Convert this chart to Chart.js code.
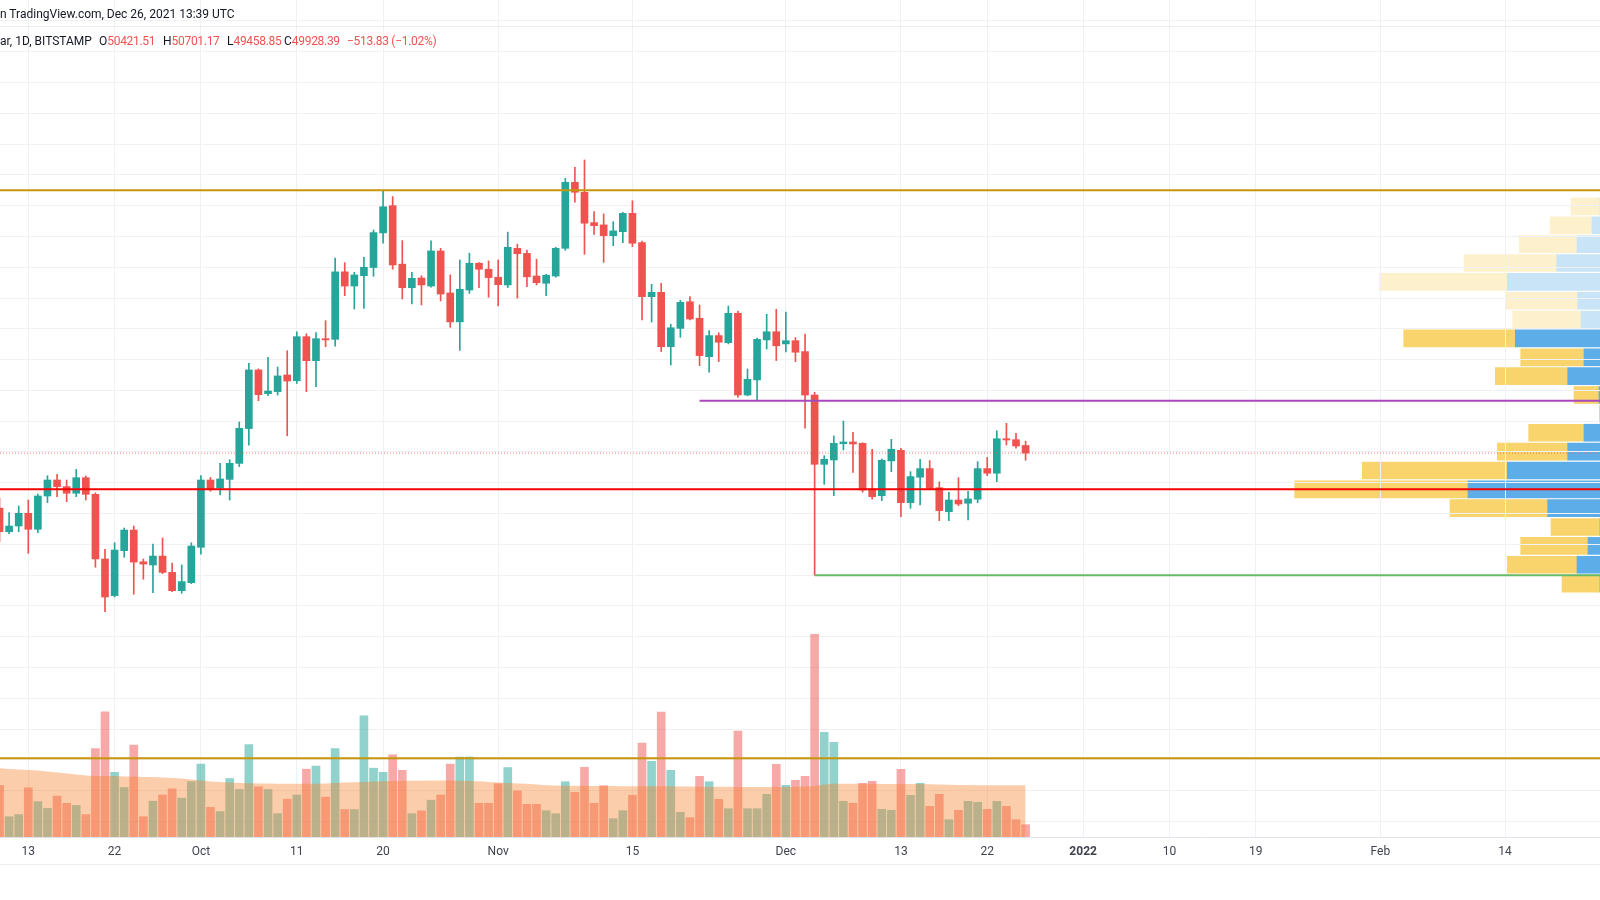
<!DOCTYPE html>
<html>
<head>
<meta charset="utf-8">
<script src="https://cdn.jsdelivr.net/npm/chart.js@4.4.0/dist/chart.umd.min.js"></script>
<style>
body { margin: 0; background: #fff; width: 1600px; height: 900px; overflow: hidden; position: relative; font-family: Roboto, sans-serif; }
canvas { position: absolute; left: 0; top: 0; }
#profile { z-index: 0; }
#main { z-index: 1; }
.txt { position: absolute; z-index: 2; font-size: 12px; line-height: 16px; color: #131722; white-space: nowrap; }
.red { color: #ef5350; letter-spacing: -0.3px; }
.sep { position: absolute; left: 0; width: 1600px; height: 1px; background: #eceef2; z-index: 2; }
</style>
</head>
<body>
<canvas id="profile" width="1600" height="900"></canvas>
<canvas id="main" width="1600" height="900"></canvas>

<div class="txt" style="left:0; top:6px;">n TradingView.com, Dec 26, 2021 13:39 UTC</div>
<div class="sep" style="top:26px;"></div>
<div class="txt" style="left:0; top:33px;">ar, 1D, BITSTAMP</div>
<div class="txt" style="left:99px; top:33px;">O<span class="red">50421.51</span></div>
<div class="txt" style="left:163px; top:33px;">H<span class="red">50701.17</span></div>
<div class="txt" style="left:227px; top:33px;">L<span class="red">49458.85</span></div>
<div class="txt" style="left:284px; top:33px;">C<span class="red">49928.39</span></div>
<div class="txt red" style="left:347px; top:33px;">−513.83 (−1.02%)</div>
<div class="sep" style="top:864px;"></div>

<script>
// daily candles, 2021-09-10 .. 2021-12-26 (x = days since Sep 10)
const open = [
    46350, 44820, 45190, 46020, 44980, 47140, 48180, 47750, 47320, 48330, 47250, 43050, 40670, 43590, 44930, 42870, 42660, 43240, 42180, 40990, 41510,
    43810, 48180, 47660, 48220, 49260, 51520, 55330, 53790, 53920, 55000, 54630, 57490, 55930, 57360, 57320, 61700, 60780, 61450, 61980, 64230,
    66000, 62200, 60670, 61300, 60780, 63060, 60330, 58450, 60520, 62260, 61870,
    61350, 60850, 63230, 62900, 61430, 60960, 61430, 63230, 67520, 66870, 64900, 64750, 64050, 64310, 65500, 63600, 60090, 60370, 56840, 58030,
    59760, 58690, 56190, 57560, 57100, 59010, 53700, 54680, 57280, 57810,
    57020, 57230, 56520, 53700, 49200, 49480, 50540, 50650, 50560, 47600, 47160, 49420, 50110, 46710, 48360, 48920, 47680, 46120, 46880, 46670,
    46930, 48920, 48620, 50860, 50800, 50421.51
]
const high = [
    47000, 46060, 46490, 46880, 47270, 48460, 48550, 48180, 48870, 48440, 47350, 43680, 44110, 45060, 45190, 43050, 44020, 44410, 42790, 42660, 44100,
    48460, 48350, 49260, 49500, 51950, 55760, 55400, 56150, 55520, 56580, 57810, 57680, 57750, 58530, 62600, 62300, 61670, 62650, 64420, 67000,
    66590, 63730, 61670, 61450, 63710, 63230, 61500, 62470, 62910, 62300, 62410,
    62470, 64280, 63500, 63120, 62520, 61540, 63300, 67780, 68490, 68970, 65610, 65460, 64960, 65560, 66320, 63700, 60890, 60960, 58300, 59850,
    60090, 59550, 57880, 57750, 59480, 59160, 55390, 57400, 58950, 59270,
    59080, 57430, 57660, 53880, 49760, 51040, 52010, 51280, 50600, 50180, 49550, 50820, 50240, 48720, 49530, 49440, 48060, 47380, 48330, 47450,
    49370, 49650, 51380, 51860, 51210, 50701.17
]
const low = [
    44170, 44700, 44820, 43420, 44760, 46710, 47100, 46770, 47100, 46880, 42510, 39630, 40580, 43160, 40760, 41730, 40860, 42100, 40930, 40820, 41450,
    43370, 47450, 47210, 46880, 49050, 50450, 53330, 53660, 53700, 51050, 54450, 53920, 54240, 56840, 56880, 60150, 59290, 59330, 61410, 63560,
    61870, 59940, 59610, 59550, 60700, 59810, 58100, 56600, 60300, 60680, 60050,
    59490, 60680, 59990, 60740, 60850, 60150, 61350, 63100, 66220, 62840, 64140, 62320, 63400, 63600, 63340, 58580, 58440, 56520, 55650, 57450,
    58580, 55610, 55180, 55870, 57020, 53550, 53650, 53380, 56690, 55940,
    56500, 55870, 51540, 42000, 47900, 47160, 50130, 48680, 47380, 46930, 46840, 48720, 45800, 46340, 46560, 47560, 45540, 45540, 46510, 45580,
    46700, 48460, 48070, 50450, 50240, 49458.85
]
const close = [
    44820, 45190, 46020, 44980, 47140, 48180, 47750, 47320, 48330, 47250, 43050, 40580, 43630, 44930, 42850, 42720, 43240, 42180, 40990, 41580, 43890,
    48180, 47580, 48250, 49260, 51540, 55330, 53720, 53960, 54940, 54610, 57490, 55930, 57360, 57280, 61700, 60780, 61500, 62000, 64250, 65930,
    62150, 60670, 61280, 60850, 63060, 60260, 58450, 60570, 62260, 61870, 61330,
    60870, 63300, 62880, 61380, 61000, 61480, 63230, 67520, 66870, 64860, 64700, 64050, 64360, 65500, 63560, 60090, 60370, 56840, 58070, 59720,
    58640, 56260, 57560, 57130, 59010, 53700, 54720, 57320, 57810, 56900,
    57230, 56480, 53700, 49200, 49530, 50560, 50650, 50520, 47530, 47100, 49460, 50180, 46710, 48400, 48920, 47640, 46190, 46880, 46620, 46950,
    48920, 48620, 50860, 50780, 50390, 49928.39
]
// volume (arbitrary units) and its moving average
const volume = [
    51.6, 20.3, 22.4, 49.2, 35.4, 28.6, 40.9, 33.7, 31.6, 22.4, 88.4, 125.2, 64.7, 49.5, 91.8, 20.3, 35.8, 42, 48.2, 38.9, 55.4,
    72.9, 29.6, 25.5, 58.5, 47.5, 92.5, 50.2, 47.5, 23.4, 37.8, 42, 67.8, 70.9, 39.9, 88.4, 27.5, 27.5, 121.1, 68.8, 64.7,
    82.2, 66.7, 23.4, 26.1, 36.8, 42, 72.9, 80, 80, 33.7, 33.7,
    53.3, 69.5, 46.1, 32.7, 32.7, 26.3, 23.3, 55.3, 44.7, 69.7, 33.7, 51.3, 18.3, 26.3, 41.7, 94, 75.7, 125, 66.7, 24.7,
    19.3, 60.7, 55.3, 37.7, 28.3, 106, 28.3, 28.3, 42.7, 72.7,
    51.7, 56.7, 60.7, 202.7, 104.7, 94.7, 35.7, 33.7, 53.7, 55.7, 27.7, 26.7, 67.7, 41.7, 53.7, 30.7, 42.7, 17.3, 26.7, 35.7,
    34.7, 27.7, 35.7, 30.7, 17.3, 12.3
]
const volumeMa = [
    68.8, 68, 67.5, 67, 66.5, 65.5, 64.5, 63.5, 62.5, 61.5, 61, 61, 61, 60.5, 60.5, 60, 60, 59.5, 59, 58.5, 57.5,
    56.5, 55.5, 55, 54.5, 54, 53.7, 53.5, 53.5, 53.3, 53.3, 53.3, 53.3, 53.3, 53.5, 54, 54.5, 54.8, 55, 55.5, 55.7,
    56, 56, 56.2, 56.2, 56.4, 56.4, 56.4, 56.2, 56, 55.7, 55,
    54.5, 54, 53.5, 53.3, 52.5, 51.7, 51.5, 51.3, 51.2, 51, 51, 51, 51, 50.8, 50.8, 50.7, 50.7, 50.7, 50.7, 50.5,
    50.5, 50.3, 50.3, 50.2, 50.2, 50, 50, 50, 50, 50,
    50, 50.3, 50.5, 51, 52.5, 53.3, 53.3, 53.3, 53.2, 53.2, 53, 53, 53, 53, 53, 52.8, 52.5, 52.3, 52, 52,
    51.8, 51.8, 51.7, 51.7, 51.7, 51.7
]

// time axis labels
const tickDays = [3, 12, 21, 31, 40, 52, 66, 82, 94, 103, 113, 122, 131, 144, 157]
const tickLabels = ['13', '22', 'Oct', '11', '20', 'Nov', '15', 'Dec', '13', '22', '2022', '10', '19', 'Feb', '14']

// drawn levels
const resistance = 67000
const support = 47580
const midLevel = 53330
const midLevelFrom = 73
const crashLow = 42000
const crashLowFrom = 85
const volumeLevel = 78.7

// volume profile (visible range)
const vpPrices = [65950, 64725, 63500, 62275, 61050, 59825, 58600, 57375, 56150, 54925, 53700, 52475, 51250, 50025, 48800, 47575, 46350, 45125, 43900, 42675, 41450]
const vpUp = [0, 8, 23, 43.3, 92.7, 22.3, 19, 84.7, 16, 32.3, 1, 0, 16, 32.3, 92.7, 132, 52.3, 0, 12, 23, 0]
const vpDown = [29, 42, 57.7, 92.7, 128, 72.4, 68.3, 111.6, 63.3, 72.4, 25, 0, 55.3, 70.4, 145, 173.3, 97.7, 49, 67.3, 69.7, 38]
const valueAreaStart = 7

const xMin = 0.05
const xMax = 166.9
const priceMin = 24990
const priceMax = 79360

const upColor = '#26a69a'
const downColor = '#ef5350'
const gridColor = '#f0f1f4'

const isUp = close.map((c, i) => c >= open[i])

function hline(y, from, color, width, dash, axis) {
    return {
        type: 'line',
        data: [{ x: from, y: y }, { x: xMax, y: y }],
        borderColor: color,
        borderWidth: width,
        borderDash: dash || [],
        pointRadius: 0,
        yAxisID: axis || 'y',
        order: 0
    }
}

const gridPrices = []
for (let p = 26000; p <= 78000; p += 2000) gridPrices.push(p)

new Chart(document.getElementById('main'), {
    type: 'bar',
    data: {
        datasets: [
            hline(resistance, xMin, '#c8960a', 2),
            hline(support, xMin, '#f50000', 2),
            hline(midLevel, midLevelFrom, '#ab47bc', 2),
            hline(crashLow, crashLowFrom, '#66bb6a', 2),
            hline(close[close.length - 1], xMin, 'rgba(239,83,80,0.75)', 1, [1, 2]),
            hline(volumeLevel, xMin, '#c8960a', 2, null, 'yv'),
            {
                data: close.map((c, i) => ({ x: i, y: [open[i], c] })),
                backgroundColor: isUp.map(u => u ? upColor : downColor),
                barThickness: 7,
                minBarLength: 1,
                grouped: false,
                order: 1
            },
            {
                data: close.map((c, i) => ({ x: i, y: [low[i], high[i]] })),
                backgroundColor: isUp.map(u => u ? upColor : downColor),
                barThickness: 1,
                grouped: false,
                order: 2
            },
            {
                type: 'line',
                data: volumeMa.map((v, i) => ({ x: i, y: v })),
                yAxisID: 'yv',
                borderWidth: 0,
                pointRadius: 0,
                fill: 'origin',
                backgroundColor: 'rgba(248,130,43,0.4)',
                order: 3
            },
            {
                data: volume.map((v, i) => ({ x: i, y: v })),
                yAxisID: 'yv',
                backgroundColor: isUp.map(u => u ? 'rgba(38,166,154,0.5)' : 'rgba(239,83,80,0.5)'),
                barThickness: 8,
                grouped: false,
                order: 4
            }
        ]
    },
    options: {
        responsive: false,
        animation: false,
        devicePixelRatio: 1,
        layout: { padding: 0 },
        plugins: { legend: { display: false }, tooltip: { enabled: false } },
        scales: {
            x: {
                type: 'linear',
                min: xMin,
                max: xMax,
                offset: false,
                afterBuildTicks: axis => { axis.ticks = tickDays.map(v => ({ value: v })) },
                afterFit: axis => { axis.height = 63 },
                grid: { color: gridColor, drawTicks: false, offset: false },
                border: { color: '#e0e3eb' },
                ticks: {
                    padding: 8,
                    color: '#3e424d',
                    autoSkip: false,
                    maxRotation: 0,
                    font: c => ({ family: 'Roboto', size: 12, weight: c.tick && c.tick.label === '2022' ? 'bold' : 'normal' }),
                    callback: v => {
                        const k = tickDays.indexOf(v)
                        return k >= 0 ? tickLabels[k] : ''
                    }
                }
            },
            y: {
                type: 'linear',
                min: priceMin,
                max: priceMax,
                afterBuildTicks: axis => { axis.ticks = gridPrices.map(v => ({ value: v })) },
                afterFit: axis => { axis.width = 0 },
                grid: { color: gridColor, drawTicks: false },
                border: { display: false },
                ticks: { display: false }
            },
            yv: {
                type: 'linear',
                display: false,
                min: 0,
                max: 837
            }
        }
    }
})

new Chart(document.getElementById('profile'), {
    type: 'bar',
    data: {
        datasets: [
            {
                data: vpPrices.map((p, i) => ({ y: p, x: [0, vpUp[i]] })),
                backgroundColor: vpPrices.map((p, i) => i < valueAreaStart ? '#c8e4f6' : '#5dade8')
            },
            {
                data: vpPrices.map((p, i) => ({ y: p, x: [vpUp[i], vpUp[i] + vpDown[i]] })),
                backgroundColor: vpPrices.map((p, i) => i < valueAreaStart ? '#fdf0cd' : '#f9d36b')
            }
        ]
    },
    options: {
        indexAxis: 'y',
        responsive: false,
        animation: false,
        devicePixelRatio: 1,
        layout: { padding: { top: 0, bottom: 63, left: 0, right: 0 } },
        plugins: { legend: { display: false }, tooltip: { enabled: false } },
        datasets: { bar: { barThickness: 17, grouped: false } },
        scales: {
            x: { type: 'linear', display: false, reverse: true, min: 0, max: 1600 },
            y: { type: 'linear', display: false, min: priceMin, max: priceMax, offset: false }
        }
    }
})
</script>
</body>
</html>
